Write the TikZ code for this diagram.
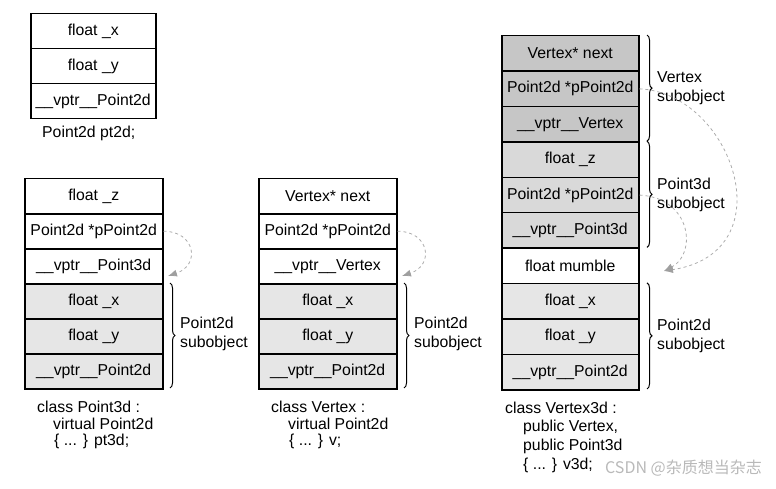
\documentclass[tikz,border=0pt]{standalone}
\usepackage{fontspec}
\setmainfont{Liberation Sans}
\newfontfamily\cjkfont{Noto Sans CJK SC}
\usetikzlibrary{arrows.meta,decorations.pathreplacing}
\definecolor{graylight}{HTML}{E6E6E6}
\definecolor{graymid}{HTML}{D9D9D9}
\definecolor{graydark}{HTML}{C6C6C6}
\begin{document}
\begin{tikzpicture}[x=1pt,y=-1pt,
  txt/.style={font=\fontsize{15.8}{18}\selectfont},
  cell/.style={txt, draw, line width=1.5pt, minimum height=35pt, inner sep=0pt, anchor=north west},
  colone/.style={cell, minimum width=125pt},
  coltwo/.style={cell, minimum width=138pt},
  colfour/.style={cell, minimum width=137pt, minimum height=35.4pt},
  sublabel/.style={txt, anchor=west, align=left, inner sep=0pt, font=\fontsize{15.8}{19}\selectfont},
  captxt/.style={txt, anchor=west, align=left, inner sep=0pt},
  bracestyle/.style={decorate, decoration={brace, amplitude=5pt}, line width=1pt},
  ptrline/.style={draw=gray!65, line width=0.8pt, dash pattern=on 3pt off 3pt, -{Latex[length=9pt,width=7pt,color=gray!75,fill=gray!75]}}
]
\useasboundingbox (0,0) rectangle (776,489);

% column 1: Point2d
\node[colone] (a1) at (30,13) {float \_x};
\node[colone] (a2) at (30,48) {float \_y};
\node[colone] (a3) at (30,83) {\_\_vptr\_\_Point2d};
\node[captxt] (acap) at (42,133) {Point2d pt2d;};

% column 2: Point3d
\node[coltwo] (b1) at (24,178) {float \_z};
\node[coltwo] (b2) at (24,213) {Point2d *pPoint2d};
\node[coltwo] (b3) at (24,248) {\_\_vptr\_\_Point3d};
\node[coltwo, fill=graylight] (b4) at (24,283) {float \_x};
\node[coltwo, fill=graylight] (b5) at (24,318) {float \_y};
\node[coltwo, fill=graylight] (b6) at (24,353) {\_\_vptr\_\_Point2d};
\draw[bracestyle] (170,283) -- (170,388);
\node[sublabel] (bsub) at (180,334) {Point2d\\subobject};
\node[captxt] (bcap1) at (37,407) {class Point3d :};
\node[captxt] (bcap2) at (53,424) {virtual Point2d};
\node[captxt] (bcap3) at (54,441) {\{ ... \} pt3d;};
\coordinate (bt) at (168,276);
\draw[ptrline] (b2.east) .. controls (195,231) and (201,265) .. (bt);

% column 3: Vertex
\node[coltwo] (c1) at (258,178) {Vertex* next};
\node[coltwo] (c2) at (258,213) {Point2d *pPoint2d};
\node[coltwo] (c3) at (258,248) {\_\_vptr\_\_Vertex};
\node[coltwo, fill=graylight] (c4) at (258,283) {float \_x};
\node[coltwo, fill=graylight] (c5) at (258,318) {float \_y};
\node[coltwo, fill=graylight] (c6) at (258,353) {\_\_vptr\_\_Point2d};
\draw[bracestyle] (404,283) -- (404,388);
\node[sublabel] (csub) at (414,334) {Point2d\\subobject};
\node[captxt] (ccap1) at (271,407) {class Vertex :};
\node[captxt] (ccap2) at (288,424) {virtual Point2d};
\node[captxt] (ccap3) at (289,441) {\{ ... \} v;};
\coordinate (ct) at (402,276);
\draw[ptrline] (c2.east) .. controls (429,231) and (435,265) .. (ct);

% column 4: Vertex3d
\node[colfour, fill=graydark] (d1) at (501,35) {Vertex* next};
\node[colfour, fill=graydark] (d2) at (501,70.4) {Point2d *pPoint2d};
\node[colfour, fill=graydark] (d3) at (501,105.8) {\_\_vptr\_\_Vertex};
\node[colfour, fill=graymid] (d4) at (501,141.2) {float \_z};
\node[colfour, fill=graymid] (d5) at (501,176.6) {Point2d *pPoint2d};
\node[colfour, fill=graymid] (d6) at (501,212) {\_\_vptr\_\_Point3d};
\node[colfour] (d7) at (501,247.4) {float mumble};
\node[colfour, fill=graylight] (d8) at (501,282.8) {float \_x};
\node[colfour, fill=graylight] (d9) at (501,318.2) {float \_y};
\node[colfour, fill=graylight] (d10) at (501,353.6) {\_\_vptr\_\_Point2d};
\draw[bracestyle] (647,35) -- (647,141.2);
\draw[bracestyle] (647,141.2) -- (647,247.4);
\draw[bracestyle] (647,282.8) -- (647,389);
\node[sublabel] (dsub1) at (657,88) {Vertex\\subobject};
\node[sublabel] (dsub2) at (657,195) {Point3d\\subobject};
\node[sublabel] (dsub3) at (657,336) {Point2d\\subobject};
\node[captxt] (dcap1) at (505,408) {class Vertex3d :};
\node[captxt] (dcap2) at (523,427) {public Vertex,};
\node[captxt] (dcap3) at (523,446) {public Point3d};
\node[captxt] (dcap4) at (523,465) {\{ ... \} v3d;};
\coordinate (dt) at (664,271);
\draw[ptrline] (d2.east) .. controls (732,93) and (787,252) .. (dt);
\draw[ptrline] (d5.east) .. controls (692,198) and (697,254) .. (dt);

% watermark
\node[anchor=east, inner sep=0pt, text=gray!55, font=\cjkfont\fontsize{16}{16}\selectfont] (wm) at (762,468) {CSDN @杂质想当杂志};
\end{tikzpicture}
\end{document}
